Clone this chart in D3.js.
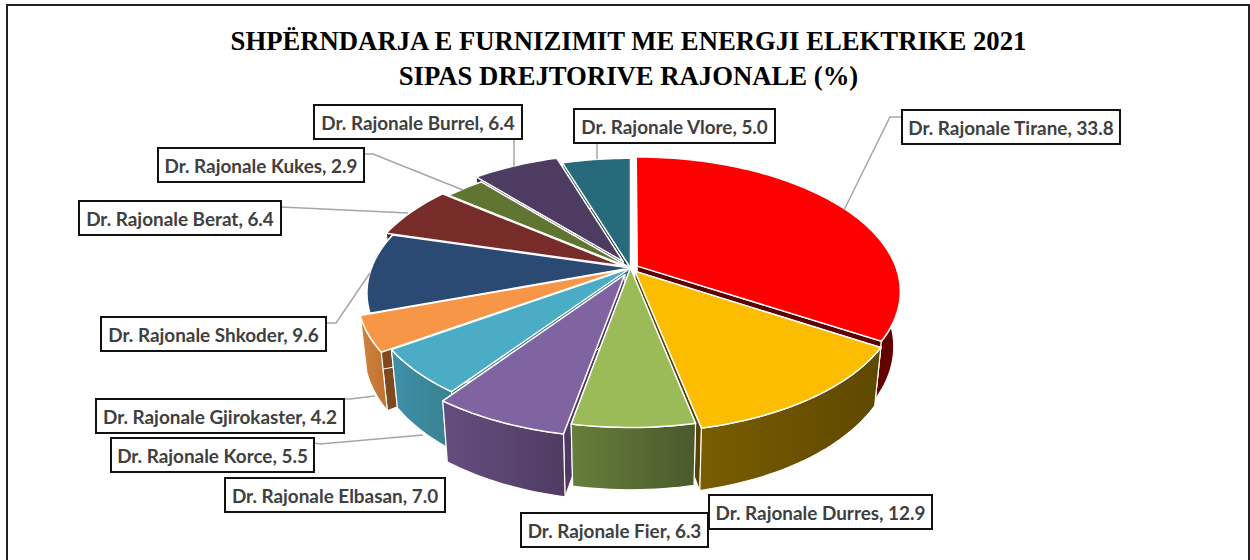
<!DOCTYPE html>
<html>
<head>
<meta charset="utf-8">
<script src="https://cdn.jsdelivr.net/npm/d3@7"></script>
<style>
  html, body { margin: 0; padding: 0; background: #fff; }
</style>
</head>
<body>
<div id="chart"></div>
<script>
var categories = ['Dr. Rajonale Tirane', 'Dr. Rajonale Durres', 'Dr. Rajonale Fier', 'Dr. Rajonale Elbasan',
    'Dr. Rajonale Korce', 'Dr. Rajonale Gjirokaster', 'Dr. Rajonale Shkoder', 'Dr. Rajonale Berat',
    'Dr. Rajonale Kukes', 'Dr. Rajonale Burrel', 'Dr. Rajonale Vlore'];
var values = [33.8, 12.9, 6.3, 7.0, 5.5, 4.2, 9.6, 6.4, 2.9, 6.4, 5.0];
var titleLines = ['SHPËRNDARJA E FURNIZIMIT ME ENERGJI ELEKTRIKE 2021', 'SIPAS DREJTORIVE RAJONALE (%)'];

// how far each slice is pulled out, as a share of the radius
var explode = [0.03, 0.03, 0, 0.055, 0, 0.036, 0, 0.032, 0, 0.058, 0];

var topColor = ['#ff0000', '#fcbc00', '#9bbb59', '#8064a2', '#4bacc6', '#f79646', '#2a4a73', '#772c2a', '#5f7530', '#4d3b62', '#276a7c'];
var wallLeft = ['#5c0000', '#7a5d00', '#667f3b', '#654e7f', '#3f90a8', '#d0843e', '#1f3858', '#591f1e', '#475824', '#33263f', '#1c505e'];
var wallRight = ['#660000', '#5e4800', '#4a5a2c', '#503b63', '#37808f', '#c07030', '#1f3858', '#591f1e', '#475824', '#33263f', '#1c505e'];
var wallEdge = ['#5c0000', '#5a4300', '#3f4d25', '#4f3a63', '#2f7286', '#7c4a1e', '#16263f', '#3d1211', '#2f3b18', '#1c1428', '#123944'];

// label box left/top/right, in the same order as the categories
var labelBox = [[902, 110, 1120], [709, 495, 932], [521, 513, 708], [225, 478, 445], [111, 438, 314], [96, 399, 344], [101, 317, 326], [79, 201, 281], [158, 148, 364], [314, 105, 522], [574, 109, 775]];
var leaders = [
    [[844, 210], [890, 117], [902, 117]],
    [], [], [],
    [[423, 435], [320, 444], [314, 443]],
    [[375, 396], [350, 399], [344, 399]],
    [[370, 273], [336, 323], [326, 323]],
    [[408, 213], [281, 207]],
    [[463, 190], [373, 154], [364, 154]],
    [[514, 167], [514, 139]],
    [[597, 159], [597, 142]]
];

var width = 1250, height = 560;
var cx = 630.5, cy = 268;
var rx = 259, ry = 130, persp = 0.185, depth = 54, shrink = 0.975;

var svg = d3.select('#chart').append('svg')
    .attr('width', width)
    .attr('height', height)
    .style('display', 'block');

svg.append('rect')
    .attr('x', 7).attr('y', 5)
    .attr('width', 1242).attr('height', 570)
    .attr('fill', '#fff').attr('stroke', '#222').attr('stroke-width', 2);

svg.selectAll('.title')
    .data(titleLines)
    .enter().append('text')
    .attr('class', 'title')
    .attr('x', 628.5)
    .attr('y', function (d, i) { return 49.5 + i * 35; })
    .attr('text-anchor', 'middle')
    .attr('font-family', '"Liberation Serif", serif')
    .attr('font-weight', 'bold')
    .attr('font-size', 26.7)
    .attr('fill', '#000')
    .text(function (d) { return d; });

var pie = d3.pie().sort(null).value(function (d) { return d; });
var arcs = pie(values).map(function (a, i) {
    return { i: i, start: a.startAngle, end: a.endAngle, mid: (a.startAngle + a.endAngle) / 2 };
});

// disc point (angle clockwise from the top, radius share) to the screen, with perspective
function project(a, r, e) {
    var u = r * Math.sin(a) + e.u, v = -r * Math.cos(a) + e.v;
    var s = 1 / (1 - persp * v);
    return [cx + rx * u * s, cy + ry * v * s, s];
}

function outline(d) {
    var e = { u: explode[d.i] * Math.sin(d.mid), v: -explode[d.i] * Math.cos(d.mid) };
    var apex = project(0, 0, e), rim = [];
    var n = Math.max(4, Math.ceil((d.end - d.start) * 40));
    d3.range(n + 1).forEach(function (k) {
        rim.push(project(d.start + (d.end - d.start) * k / n, 1, e));
    });
    return { apex: apex, rim: rim };
}

function lower(p, apex) {
    return [apex[0] + (p[0] - apex[0]) * shrink, apex[1] + (p[1] - apex[1]) * shrink + depth * p[2], p[2]];
}

var line = d3.line().curve(d3.curveLinearClosed);

var defs = svg.append('defs');
arcs.forEach(function (d) {
    var g = defs.append('linearGradient').attr('id', 'wall' + d.i);
    g.append('stop').attr('offset', '0%').attr('stop-color', wallLeft[d.i]);
    g.append('stop').attr('offset', '100%').attr('stop-color', wallRight[d.i]);
});

var backToFront = arcs.slice().sort(function (a, b) { return Math.cos(b.mid) - Math.cos(a.mid); });

var walls = svg.append('g');
backToFront.forEach(function (d) {
    var o = outline(d), a = o.apex, first = o.rim[0], last = o.rim[o.rim.length - 1];
    [first, last].forEach(function (p) {
        walls.append('path')
            .attr('d', line([a, p, lower(p, a), lower(a, a)]))
            .attr('fill', wallEdge[d.i])
            .attr('stroke', '#fff').attr('stroke-width', 1);
    });
    var bottom = o.rim.map(function (p) { return lower(p, a); }).reverse();
    walls.append('path')
        .attr('d', line(o.rim.concat(bottom)))
        .attr('fill', 'url(#wall' + d.i + ')')
        .attr('stroke', '#fff').attr('stroke-width', 1.2);
});

var tops = svg.append('g');
backToFront.forEach(function (d) {
    var o = outline(d);
    tops.append('path')
        .attr('d', line([o.apex].concat(o.rim)))
        .attr('fill', topColor[d.i])
        .attr('stroke', '#fff').attr('stroke-width', 1.5)
        .attr('stroke-linejoin', 'round');
});

var leaderLine = d3.line();
svg.append('g').selectAll('path')
    .data(leaders.filter(function (d) { return d.length; }))
    .enter().append('path')
    .attr('d', leaderLine)
    .attr('fill', 'none')
    .attr('stroke', '#a6a6a6')
    .attr('stroke-width', 1.5);

var labels = svg.append('g').selectAll('g')
    .data(categories)
    .enter().append('g')
    .attr('transform', function (d, i) { return 'translate(' + labelBox[i][0] + ',' + labelBox[i][1] + ')'; });

labels.append('rect')
    .attr('width', function (d, i) { return labelBox[i][2] - labelBox[i][0]; })
    .attr('height', 34)
    .attr('fill', '#fff')
    .attr('stroke', '#111')
    .attr('stroke-width', 2);

labels.append('text')
    .attr('x', function (d, i) { return (labelBox[i][2] - labelBox[i][0]) / 2; })
    .attr('y', 24.5)
    .attr('text-anchor', 'middle')
    .attr('font-family', 'Lato, sans-serif')
    .attr('font-weight', 'bold')
    .attr('font-size', 18.9)
    .attr('fill', '#404040')
    .text(function (d, i) { return d + ', ' + values[i].toFixed(1); });
</script>
</body>
</html>
